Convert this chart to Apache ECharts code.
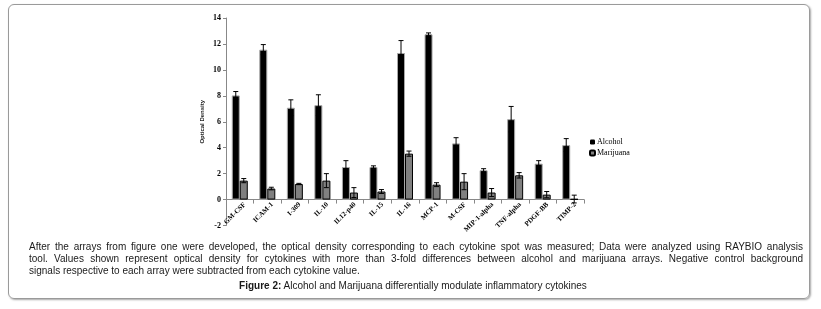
<!DOCTYPE html>
<html>
<head>
<meta charset="utf-8">
<script src="https://cdn.jsdelivr.net/npm/echarts@6/dist/echarts.min.js"></script>
<style>
    body {margin: 0; background: #fff;}
    .frame {position: absolute; left: 8px; top: 4px; width: 800px; height: 293px; border: 1px solid #9a9a9a; border-radius: 6px; box-shadow: 1px 1px 2px rgba(0,0,0,0.35);}
    #chart {position: absolute; left: 0; top: 0; width: 821px; height: 309px;}
    .cap {position: absolute; left: 29px; width: 774px; font-family: "Liberation Sans", Arial, sans-serif; font-size: 10px; line-height: 12px; color: #1a1a1a; white-space: nowrap;}
    .just {text-align: justify; text-align-last: justify;}
    .fig {position: absolute; left: 8px; width: 810px; top: 280px; text-align: center; font-family: "Liberation Sans", Arial, sans-serif; font-size: 10px; line-height: 12px; color: #1a1a1a;}
</style>
</head>
<body>
<div class="frame"></div>
<div id="chart"></div>
<div class="cap just" style="top:241px">After the arrays from figure one were developed, the optical density corresponding to each cytokine spot was measured; Data were analyzed using RAYBIO analysis</div>
<div class="cap just" style="top:253px">tool. Values shown represent optical density for cytokines with more than 3-fold differences between alcohol and marijuana arrays. Negative control background</div>
<div class="cap" style="top:265px">signals respective to each array were subtracted from each cytokine value.</div>
<div class="fig"><b>Figure 2:</b> Alcohol and Marijuana differentially modulate inflammatory cytokines</div>
<script>
// 细胞因子
var cytokines = ['GM-CSF', 'ICAM-1', 'I-309', 'IL-10', 'IL12-p40', 'IL-15', 'IL-16', 'MCP-1', 'M-CSF', 'MIP-1-alpha', 'TNF-alpha', 'PDGF-BB', 'TIMP-2'];
// 光密度值 + 误差
var alcohol = [8.03, 11.56, 7.08, 7.28, 2.51, 2.51, 11.3, 12.74, 4.33, 2.26, 6.2, 2.77, 4.2];
var alcoholErr = [0.3, 0.39, 0.61, 0.8, 0.49, 0.09, 0.96, 0.11, 0.44, 0.12, 0.98, 0.23, 0.5];
var marijuana = [1.46, 0.85, 1.2, 1.46, 0.54, 0.62, 3.54, 1.15, 1.38, 0.54, 1.87, 0.38, 0.04];
var marijuanaErr = [0.16, 0.1, 0.05, 0.54, 0.38, 0.15, 0.2, 0.15, 0.62, 0.31, 0.21, 0.24, 0.3];
var yTicks = {min: -2, max: 14, step: 2};

var barW = 8;
var plotH = 207.5;
var serif = '"Liberation Serif", "Times New Roman", serif';

var chart = echarts.init(document.getElementById('chart'));

//误差线
function errData(vals, errs) {
    return vals.map(function (v, i) {
        return [i, v, errs[i]];
    });
}

function errRender(shift) {
    return function (params, api) {
        var i = api.value(0), v = api.value(1), e = api.value(2);
        var x = api.coord([i, v])[0] + shift;
        var yt = api.coord([i, v + e])[1];
        var yb = api.coord([i, v - e])[1];
        var st = {stroke: '#000', lineWidth: 1};
        return {
            type: 'group',
            children: [
                {type: 'line', shape: {x1: x, y1: yt, x2: x, y2: yb}, style: st},
                {type: 'line', shape: {x1: x - 2.5, y1: yt, x2: x + 2.5, y2: yt}, style: st},
                {type: 'line', shape: {x1: x - 2.5, y1: yb, x2: x + 2.5, y2: yb}, style: st}
            ]
        };
    };
}

// x轴放在 0 刻度处（整根轴连同标签一起上移）
var zeroOffset = -(0 - yTicks.min) / (yTicks.max - yTicks.min) * plotH;

var option = {
    animation: false,
    grid: {left: 226, right: 237, top: 18, height: plotH, outerBoundsMode: 'none', containLabel: false},
    legend: {
        orient: 'vertical',
        left: 589,
        top: 138,
        padding: 0,
        itemWidth: 5,
        itemHeight: 5,
        itemGap: 3,
        data: [{name: 'Alcohol', itemStyle: {borderWidth: 0}}, 'Marijuana'],
        textStyle: {fontFamily: serif, fontSize: 8, color: '#000', lineHeight: 8, padding: [0, 0, 0, -3]}
    },
    xAxis: {
        type: 'category',
        data: cytokines,
        offset: zeroOffset,
        axisLine: {onZero: false, lineStyle: {color: '#888'}},
        axisTick: {show: true, length: 4, lineStyle: {color: '#888'}},
        axisLabel: {rotate: 45, interval: 0, margin: 9, padding: [0, -7, 0, 0], hideOverlap: false, fontFamily: serif, fontWeight: 'bold', fontSize: 7, color: '#000'}
    },
    yAxis: {
        type: 'value',
        min: yTicks.min,
        max: yTicks.max,
        interval: yTicks.step,
        name: 'Optical Density',
        nameLocation: 'middle',
        nameGap: 21,
        nameTextStyle: {fontFamily: '"Liberation Sans", Arial, sans-serif', fontWeight: 'bold', fontSize: 6, color: '#222'},
        splitLine: {show: false},
        axisLine: {show: true, onZero: false, lineStyle: {color: '#888'}},
        axisTick: {show: true, length: 3, lineStyle: {color: '#888'}},
        axisLabel: {margin: 5, hideOverlap: false, showMinLabel: true, showMaxLabel: true, fontFamily: serif, fontWeight: 'bold', fontSize: 8, color: '#000'}
    },
    series: [
        {
            name: 'Alcohol',
            type: 'bar',
            data: alcohol,
            barWidth: barW,
            barGap: '0%',
            itemStyle: {color: '#000', borderColor: '#a8a8a8', borderWidth: 1}
        },
        {
            name: 'Marijuana',
            type: 'bar',
            data: marijuana,
            barWidth: barW,
            itemStyle: {color: '#808080', borderColor: '#000', borderWidth: 1}
        },
        {
            type: 'custom',
            data: errData(alcohol, alcoholErr),
            renderItem: errRender(-barW / 2),
            z: 5
        },
        {
            type: 'custom',
            data: errData(marijuana, marijuanaErr),
            renderItem: errRender(barW / 2),
            z: 5
        }
    ]
};
chart.setOption(option);
</script>
</body>
</html>
